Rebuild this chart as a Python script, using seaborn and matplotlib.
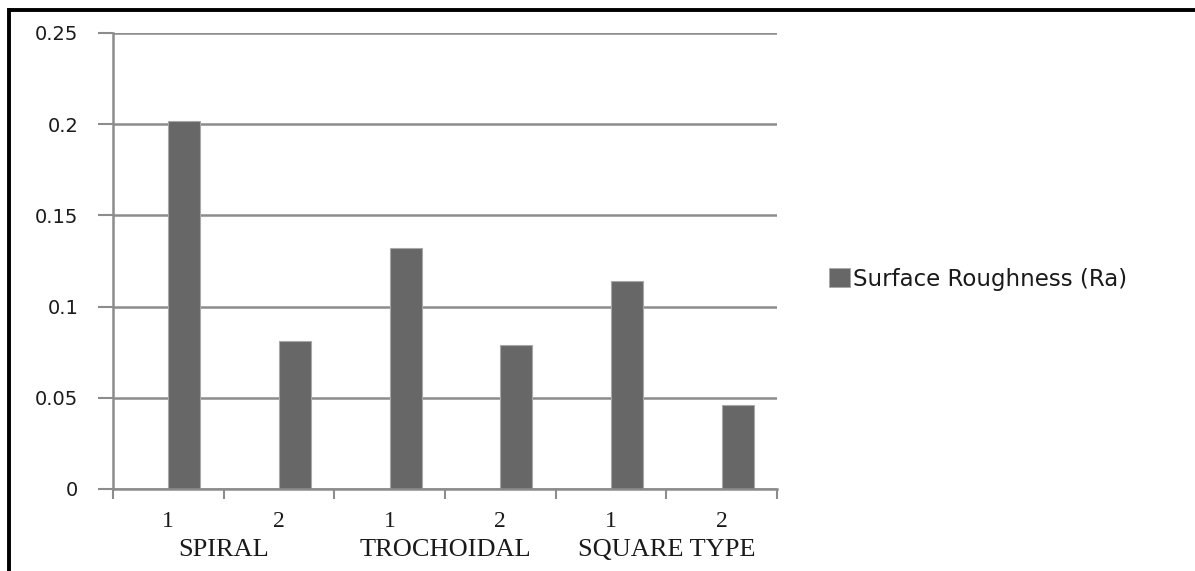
import matplotlib
matplotlib.use("Agg")
import matplotlib.pyplot as plt
from matplotlib.patches import Patch
from matplotlib.lines import Line2D
import seaborn as sns
import pandas as pd

# ---- data ----
groups = ["SPIRAL", "SPIRAL", "TROCHOIDAL", "TROCHOIDAL", "SQUARE TYPE", "SQUARE TYPE"]
runs = ["1", "2", "1", "2", "1", "2"]
values = [0.202, 0.081, 0.132, 0.079, 0.114, 0.046]
series_name = "Surface Roughness (Ra)"
group_names = ["SPIRAL", "TROCHOIDAL", "SQUARE TYPE"]
yticks = [0, 0.05, 0.1, 0.15, 0.2, 0.25]
ytick_labels = ["0", "0.05", "0.1", "0.15", "0.2", "0.25"]

keys = [f"{g} {r}" for g, r in zip(groups, runs)]
df = pd.DataFrame({"key": keys, "value": values, "series": series_name})

sns.set_theme(style="white")
plt.rcParams["font.family"] = ["DejaVu Sans"]

W, H = 1195, 571
fig = plt.figure(figsize=(W / 100, H / 100), dpi=100)
ax = fig.add_axes([113 / W, 1 - 489 / H, (777 - 113) / W, (489 - 33) / H])

bar_color = "#676767"
grid_color = "#8c8c8c"
text_color = "#1a1a1a"

sns.barplot(
    data=df, x="key", y="value", hue="series",
    hue_order=["_empty", series_name],
    palette={"_empty": bar_color, series_name: bar_color},
    dodge=True, width=0.58, legend=False, ax=ax,
    edgecolor="#a8a8a8", linewidth=0.8, saturation=1, errorbar=None,
)

ax.set_xlim(-0.5, len(keys) - 0.5)
ax.set_ylim(0, 0.25)
ax.set_yticks(yticks)
ax.set_yticklabels(ytick_labels, fontsize=14, color=text_color)
ax.yaxis.grid(True, color=grid_color, linewidth=1.8)
ax.set_axisbelow(True)
ax.tick_params(axis="y", length=11, width=1.5, color=grid_color, pad=14, left=True)

# x: numbers at category centers, tick marks at boundaries
ax.set_xticks(range(len(keys)))
ax.set_xticklabels(runs, fontsize=17, family=["Liberation Serif"], color=text_color)
ax.tick_params(axis="x", which="major", length=0, pad=16)
ax.set_xticks([i - 0.5 for i in range(len(keys) + 1)], minor=True)
ax.tick_params(axis="x", which="minor", length=7, width=1.5, color=grid_color, bottom=True)

for k, name in enumerate(group_names):
    ax.text(2 * k + 0.5, -0.134, name, transform=ax.get_xaxis_transform(),
            ha="center", va="center", fontsize=19, family=["Liberation Serif"],
            color=text_color)

ax.set_xlabel("")
ax.set_ylabel("")
for s in ["top", "right"]:
    ax.spines[s].set_visible(False)
for s in ["left", "bottom"]:
    ax.spines[s].set_color(grid_color)
    ax.spines[s].set_linewidth(1.8)

handle = Patch(facecolor=bar_color, edgecolor="#a8a8a8", linewidth=0.6)
fig.legend([handle], [series_name], loc="center left",
           bbox_to_anchor=(829 / W, 1 - 279 / H), frameon=False,
           fontsize=16.5, handlelength=0.9, handleheight=0.9,
           handletextpad=0.15, borderpad=0, borderaxespad=0,
           labelcolor=text_color)

# outer black frame (top and left visible)
fig.add_artist(Line2D([9 / W, 1.0], [1 - 9.5 / H, 1 - 9.5 / H], color="black",
                      linewidth=2.8, transform=fig.transFigure, solid_capstyle="butt"))
fig.add_artist(Line2D([9 / W, 9 / W], [0.0, 1 - 8 / H], color="black",
                      linewidth=2.8, transform=fig.transFigure, solid_capstyle="butt"))

fig.savefig("out.png", dpi=100, facecolor="white")
